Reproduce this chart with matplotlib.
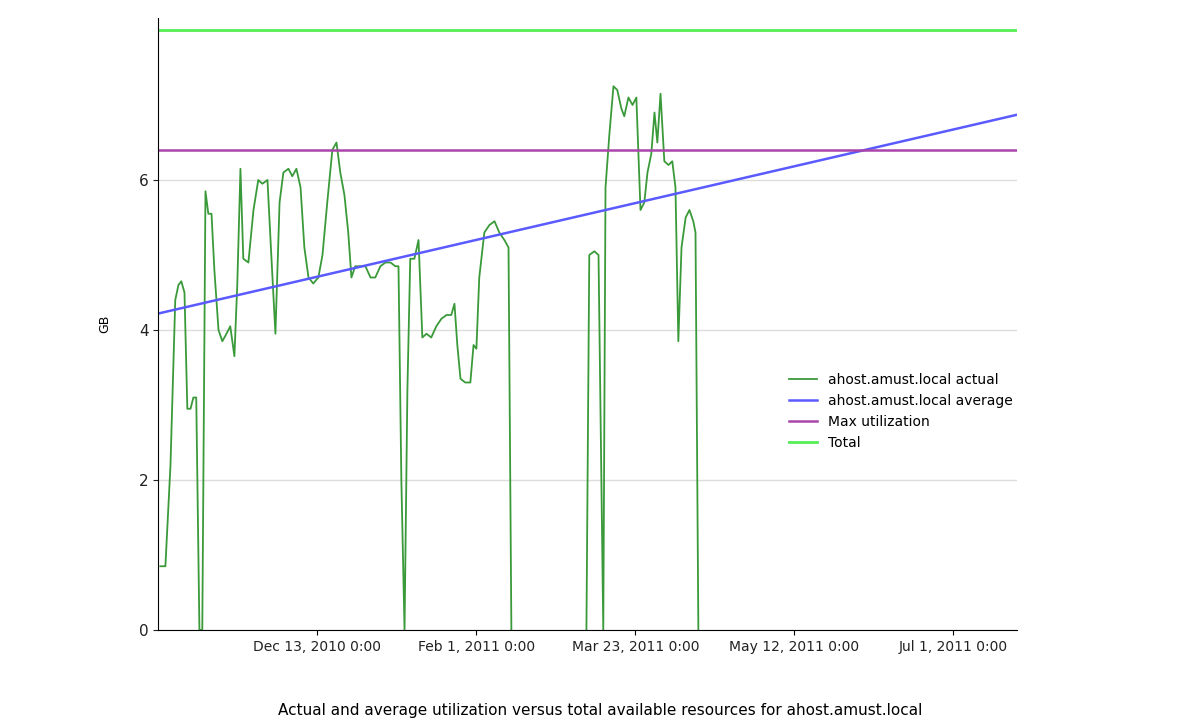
import matplotlib
matplotlib.use("Agg")
import matplotlib.pyplot as plt
import numpy as np
import datetime as dt

start = dt.datetime(2010, 10, 24)
end = dt.datetime(2011, 7, 21)
days = [0.6,2.2,3.8,5.3,6.3,7.2,8.2,9.1,10.1,11.0,11.9,12.9,13.8,14.8,15.7,16.7,17.6,18.9,20.1,21.4,22.6,23.9,24.8,25.8,26.7,28.3,29.9,31.4,32.7,34.3,35.5,36.8,38.1,39.3,40.9,42.1,43.4,44.7,45.9,47.2,48.7,50.3,51.6,53.1,54.7,56.0,57.2,58.5,59.7,60.7,61.9,63.5,65.1,66.7,68.2,69.8,71.4,73.0,74.5,75.5,76.4,77.4,78.3,79.2,80.5,81.8,83.0,84.3,85.8,87.4,89.0,90.6,92.1,93.1,94.0,95.0,96.5,98.1,99.1,100.0,100.9,102.5,104.1,105.7,107.2,108.8,110.1,111.0,
        112.0,133.0,
        134.6,135.5,137.1,138.4,139.3,139.9,140.6,141.8,143.1,144.3,145.6,146.5,147.8,149.1,150.3,151.6,152.8,153.8,155.0,156.0,156.9,157.9,159.1,160.4,161.6,162.6,163.5,164.5,165.8,167.0,168.2,168.9,169.8]
actual = [0.85,0.85,2.2,4.4,4.6,4.65,4.5,2.95,2.95,3.1,3.1,0,0,5.85,5.55,5.55,4.8,4.0,3.85,3.95,4.05,3.65,4.6,6.15,4.95,4.9,5.6,6.0,5.95,6.0,5.0,3.95,5.7,6.1,6.15,6.05,6.15,5.9,5.1,4.7,4.62,4.7,5.0,5.7,6.4,6.5,6.1,5.8,5.3,4.7,4.85,4.85,4.85,4.7,4.7,4.85,4.9,4.9,4.85,4.85,2,0,3.2,4.95,4.95,5.2,3.9,3.95,3.9,4.05,4.15,4.2,4.2,4.35,3.8,3.35,3.3,3.3,3.8,3.75,4.7,5.3,5.4,5.45,5.3,5.2,5.1,0,
          np.nan,np.nan,
          0,5.0,5.05,5.0,2,0,5.9,6.6,7.25,7.2,6.95,6.85,7.1,7.0,7.1,5.6,5.7,6.1,6.35,6.9,6.5,7.15,6.25,6.2,6.25,5.9,3.85,5.1,5.5,5.6,5.45,5.3,0]
avg_start, avg_end = 4.22, 6.87
max_util = 6.4
total = 8.0
xticks = [dt.datetime(2010,12,13), dt.datetime(2011,2,1), dt.datetime(2011,3,23), dt.datetime(2011,5,12), dt.datetime(2011,7,1)]
xlabels = ["Dec 13, 2010 0:00", "Feb 1, 2011 0:00", "Mar 23, 2011 0:00", "May 12, 2011 0:00", "Jul 1, 2011 0:00"]

dates = [start + dt.timedelta(days=d) for d in days]
fig = plt.figure(figsize=(12, 7.2), dpi=100)
ax = fig.add_axes([0.132, 0.125, 0.7155, 0.85])
ax.plot(dates, actual, color="#3a9a3a", lw=1.3, label="ahost.amust.local actual")
ax.plot([start, end], [avg_start, avg_end], color="#5a5aff", lw=1.8, label="ahost.amust.local average")
ax.plot([start, end], [max_util]*2, color="#aa44aa", lw=1.8, label="Max utilization")
ax.plot([start, end], [total]*2, color="#55ee55", lw=2, label="Total")
ax.set_xlim(start, end)
ax.set_ylim(0, 8.16)
ax.set_yticks([0, 2, 4, 6])
ax.set_xticks(xticks)
ax.set_xticklabels(xlabels, fontsize=10, color="#222222")
ax.tick_params(axis='y', labelsize=11, colors="#222222")
ax.grid(axis='y', color="#dddddd", lw=1)
ax.set_axisbelow(True)
for s in ["top", "right"]:
    ax.spines[s].set_visible(False)
ax.set_ylabel("GB", fontsize=9, labelpad=20)
ax.legend(loc="upper left", bbox_to_anchor=(0.72, 0.44), frameon=False, fontsize=10, handlelength=2)
fig.text(0.5, 0.003, "Actual and average utilization versus total available resources for ahost.amust.local",
         ha="center", va="bottom", fontsize=11)
fig.savefig("out.png", dpi=100)
